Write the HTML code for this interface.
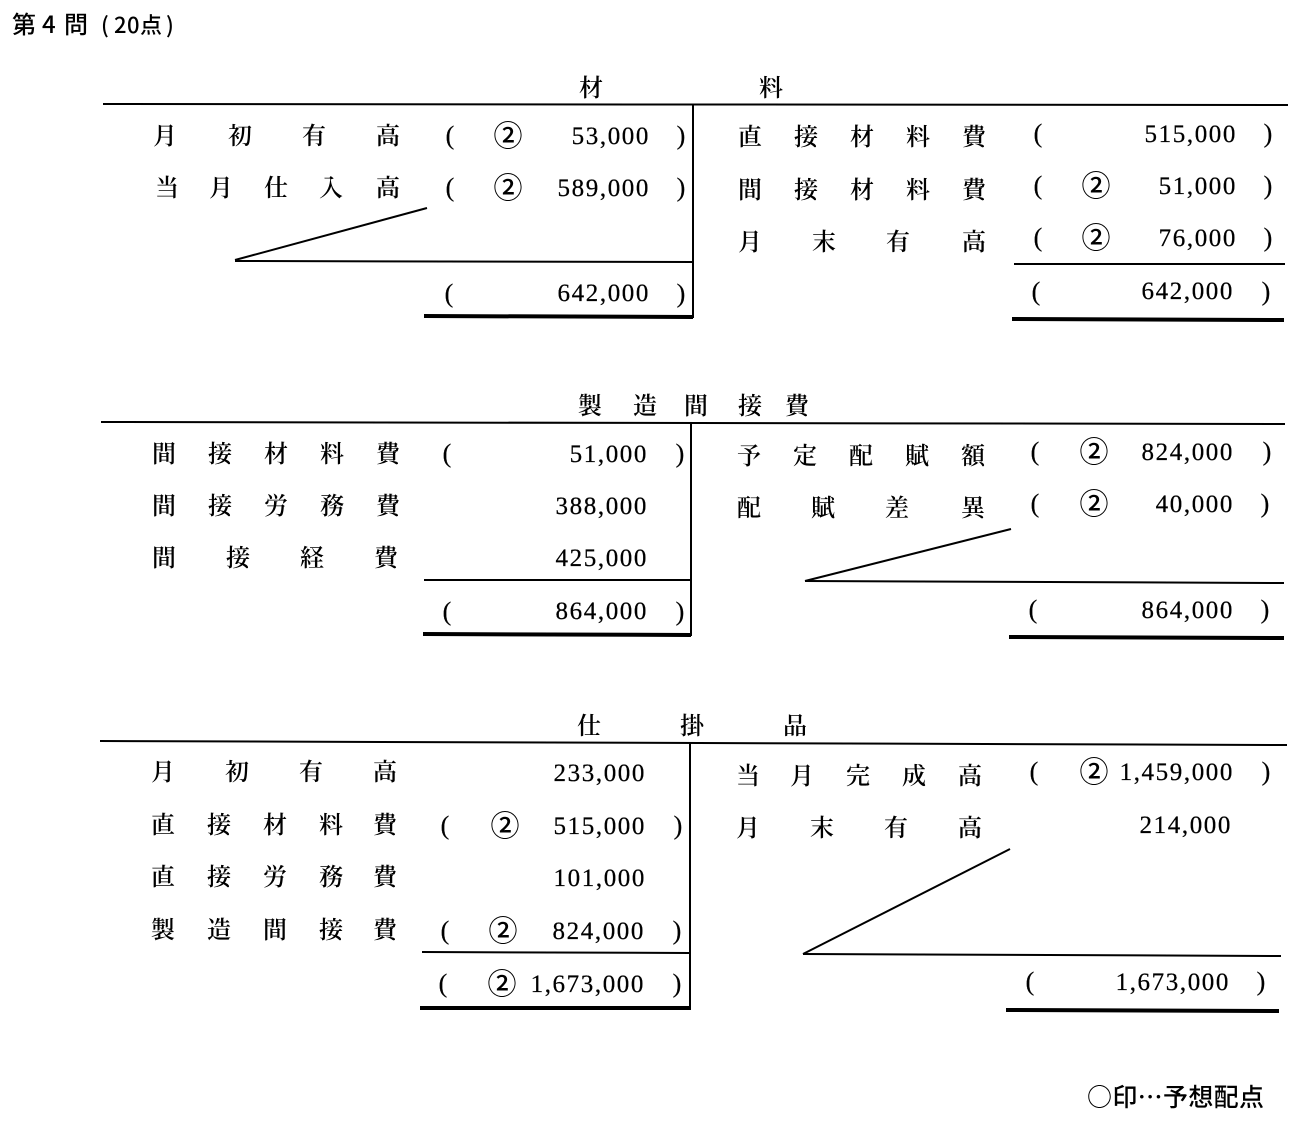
<!DOCTYPE html>
<html lang="ja">
<head>
<meta charset="utf-8">
<title>第4問</title>
<style>
html,body{margin:0;padding:0;background:#fff}
svg{display:block}
text{fill:#000}
.l{font:600 24px "Noto Serif CJK SC","Liberation Serif",serif}
.n{font:25px "Liberation Serif",serif;letter-spacing:1.6px;text-anchor:end;transform:translateY(-1px);stroke:#000;stroke-width:.25px}
.p{font:26px "Liberation Serif",serif;text-anchor:middle;stroke:#000;stroke-width:.25px}
.c{font:500 29px "Noto Sans CJK JP",sans-serif;text-anchor:middle}
.h{font:500 24px "Noto Sans CJK JP","Liberation Sans",sans-serif}
line{stroke:#000;stroke-width:2}
.t{stroke-width:4}
</style>
</head>
<body>
<svg xmlns="http://www.w3.org/2000/svg" width="1307" height="1129" viewBox="0 0 1307 1129">
<rect width="1307" height="1129" fill="#fff"/>
<g>
<text class="h" x="12 42 64" y="33">第4問</text>
<text class="h" x="101 114 127 140 166" y="33" style="font-size:22px">(20点)</text>
</g>

<g>
<text class="l" x="579 759" y="96">材料</text>
<line x1="103" y1="104" x2="1288" y2="105"/>
<line x1="693" y1="104" x2="693" y2="318"/>
<line x1="235" y1="260" x2="427" y2="208"/>
<line x1="235" y1="261" x2="692" y2="262"/>
<line class="t" x1="424" y1="316" x2="693" y2="317"/>
<line x1="1014" y1="264" x2="1285" y2="264"/>
<line class="t" x1="1012" y1="319" x2="1284" y2="320"/>

<text class="l" x="153 228 302 376" y="144">月初有高</text>
<text class="p" x="450" y="144">(</text><text class="c" x="508" y="146">②</text><text class="n" x="650" y="145">53,000</text><text class="p" x="681" y="144">)</text>
<text class="l" x="155 209 264 319 376" y="196">当月仕入高</text>
<text class="p" x="450" y="196">(</text><text class="c" x="508" y="198">②</text><text class="n" x="650" y="197">589,000</text><text class="p" x="681" y="196">)</text>
<text class="p" x="449" y="302">(</text><text class="n" x="650" y="302">642,000</text><text class="p" x="681" y="302">)</text>

<text class="l" x="738 794 850 906 962" y="145">直接材料費</text>
<text class="p" x="1038" y="142">(</text><text class="n" x="1237" y="143">515,000</text><text class="p" x="1268" y="142">)</text>
<text class="l" x="738 794 850 906 962" y="198">間接材料費</text>
<text class="p" x="1038" y="194">(</text><text class="c" x="1096" y="196">②</text><text class="n" x="1237" y="195">51,000</text><text class="p" x="1268" y="194">)</text>
<text class="l" x="738 812 886 962" y="250">月末有高</text>
<text class="p" x="1038" y="246">(</text><text class="c" x="1096" y="248">②</text><text class="n" x="1237" y="247">76,000</text><text class="p" x="1268" y="246">)</text>
<text class="p" x="1036" y="300">(</text><text class="n" x="1234" y="300">642,000</text><text class="p" x="1266" y="300">)</text>
</g>

<g>
<text class="l" x="578 633 684 738 785" y="414">製造間接費</text>
<line x1="101" y1="422" x2="1285" y2="424"/>
<line x1="691" y1="423" x2="691" y2="636"/>
<line x1="424" y1="580" x2="691" y2="580"/>
<line class="t" x1="423" y1="634" x2="691" y2="635"/>
<line x1="805" y1="581" x2="1011" y2="529"/>
<line x1="805" y1="581" x2="1284" y2="583"/>
<line class="t" x1="1009" y1="637" x2="1284" y2="638"/>

<text class="l" x="152 208 264 320 376" y="462">間接材料費</text>
<text class="p" x="447" y="462">(</text><text class="n" x="648" y="463">51,000</text><text class="p" x="680" y="462">)</text>
<text class="l" x="152 208 264 320 376" y="514">間接労務費</text>
<text class="n" x="648" y="515">388,000</text>
<text class="l" x="152 226 300 374" y="566">間接経費</text>
<text class="n" x="648" y="567">425,000</text>
<text class="p" x="447" y="620">(</text><text class="n" x="648" y="620">864,000</text><text class="p" x="680" y="620">)</text>

<text class="l" x="737 793 849 905 961" y="464">予定配賦額</text>
<text class="p" x="1035" y="460">(</text><text class="c" x="1094" y="462">②</text><text class="n" x="1234" y="461">824,000</text><text class="p" x="1267" y="460">)</text>
<text class="l" x="737 811 885 961" y="516">配賦差異</text>
<text class="p" x="1035" y="512">(</text><text class="c" x="1094" y="514">②</text><text class="n" x="1234" y="513">40,000</text><text class="p" x="1265" y="512">)</text>
<text class="p" x="1033" y="618">(</text><text class="n" x="1234" y="619">864,000</text><text class="p" x="1265" y="618">)</text>
</g>

<g>
<text class="l" x="577 680 783" y="734">仕掛品</text>
<line x1="100" y1="741" x2="1287" y2="745"/>
<line x1="690" y1="743" x2="690" y2="1010"/>
<line x1="422" y1="952" x2="689" y2="953"/>
<line class="t" x1="420" y1="1008" x2="689" y2="1008"/>
<line x1="803" y1="954" x2="1010" y2="849"/>
<line x1="803" y1="954" x2="1281" y2="956"/>
<line class="t" x1="1006" y1="1010" x2="1279" y2="1011"/>

<text class="l" x="151 225 299 373" y="780">月初有高</text>
<text class="n" x="646" y="782">233,000</text>
<text class="l" x="151 207 263 319 373" y="833">直接材料費</text>
<text class="p" x="445" y="834">(</text><text class="c" x="505" y="836">②</text><text class="n" x="646" y="835">515,000</text><text class="p" x="678" y="834">)</text>
<text class="l" x="151 207 263 319 373" y="885">直接労務費</text>
<text class="n" x="646" y="887">101,000</text>
<text class="l" x="151 207 263 319 373" y="938">製造間接費</text>
<text class="p" x="445" y="939">(</text><text class="c" x="503" y="941">②</text><text class="n" x="645" y="940">824,000</text><text class="p" x="677" y="939">)</text>
<text class="p" x="443" y="992">(</text><text class="c" x="502" y="994">②</text><text class="n" x="645" y="993">1,673,000</text><text class="p" x="677" y="992">)</text>

<text class="l" x="736 790 846 902 958" y="784">当月完成高</text>
<text class="p" x="1034" y="780">(</text><text class="c" x="1094" y="782">②</text><text class="n" x="1234" y="781">1,459,000</text><text class="p" x="1266" y="780">)</text>
<text class="l" x="736 810 884 958" y="836">月末有高</text>
<text class="n" x="1232" y="834">214,000</text>
<text class="p" x="1030" y="990">(</text><text class="n" x="1230" y="991">1,673,000</text><text class="p" x="1261" y="990">)</text>
</g>

<text class="h" x="1087" y="1106" textLength="177" style="font-size:25px">○印…予想配点</text>
</svg>
</body>
</html>
